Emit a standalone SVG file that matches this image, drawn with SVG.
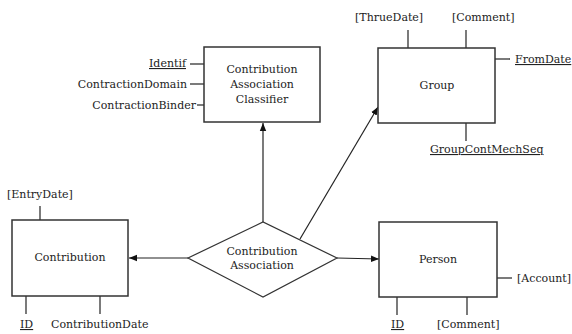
<svg xmlns="http://www.w3.org/2000/svg" width="572" height="334" viewBox="0 0 572 334">
<style>
text{font-family:"DejaVu Serif","Liberation Serif",serif;font-size:11px;fill:#222}
.box{fill:#fff;stroke:#333;stroke-width:1.5}
.t{stroke:#333;stroke-width:1.3;fill:none}
.c{stroke:#222;stroke-width:1.2;fill:none}
.m{text-anchor:middle}
.e{text-anchor:end}
.u{text-decoration:underline}
</style>
<defs>
<marker id="ah" viewBox="0 0 10 10" refX="10" refY="5" markerWidth="8" markerHeight="8" orient="auto" markerUnits="userSpaceOnUse">
<path d="M0,1 L10,5 L0,9 Z" fill="#111"/>
</marker>
</defs>
<rect width="572" height="334" fill="#fff"/>
<g id="connectors">
<line class="c" x1="263" y1="222" x2="263" y2="123" marker-end="url(#ah)"/>
<line class="c" x1="300" y1="239" x2="378" y2="107" marker-end="url(#ah)"/>
<line class="c" x1="188" y1="258" x2="129" y2="258" marker-end="url(#ah)"/>
<line class="c" x1="337" y1="258" x2="379" y2="259" marker-end="url(#ah)"/>
</g>
<g id="classifier">
<rect class="box" x="204" y="47" width="116" height="75"/>
<text class="m" x="262" y="73">Contribution</text>
<text class="m" x="262" y="88">Association</text>
<text class="m" x="262" y="103">Classifier</text>
<line class="t" x1="190" y1="64" x2="204" y2="64"/>
<line class="t" x1="190" y1="84" x2="204" y2="84"/>
<line class="t" x1="197" y1="105" x2="204" y2="105"/>
<text class="e u" x="186" y="67">Identif</text>
<text class="e" x="187" y="88">ContractionDomain</text>
<text class="e" x="196" y="109">ContractionBinder</text>
</g>
<g id="group">
<rect class="box" x="378" y="48" width="117" height="75"/>
<text class="m" x="437" y="89">Group</text>
<line class="t" x1="408" y1="30" x2="408" y2="48"/>
<line class="t" x1="466" y1="30" x2="466" y2="48"/>
<line class="t" x1="495" y1="59" x2="510" y2="59"/>
<line class="t" x1="466" y1="123" x2="466" y2="141"/>
<text x="355" y="21">[ThrueDate]</text>
<text x="452" y="21">[Comment]</text>
<text class="u" x="515" y="63">FromDate</text>
<text class="u" x="430" y="153">GroupContMechSeq</text>
</g>
<g id="association">
<polygon class="box" points="188,258 263,222 337,258 263,297" style="stroke-width:1.2"/>
<text class="m" x="262" y="255">Contribution</text>
<text class="m" x="262" y="269">Association</text>
</g>
<g id="contribution">
<rect class="box" x="12" y="220" width="116" height="76"/>
<text class="m" x="70" y="261">Contribution</text>
<line class="t" x1="40" y1="206" x2="40" y2="220"/>
<line class="t" x1="26" y1="296" x2="26" y2="314"/>
<line class="t" x1="100" y1="296" x2="100" y2="314"/>
<text x="7" y="198">[EntryDate]</text>
<text class="u" x="20" y="328">ID</text>
<text x="51" y="328">ContributionDate</text>
</g>
<g id="person">
<rect class="box" x="379" y="222" width="118" height="75"/>
<text class="m" x="438" y="263">Person</text>
<line class="t" x1="497" y1="278" x2="512" y2="278"/>
<line class="t" x1="397" y1="297" x2="397" y2="315"/>
<line class="t" x1="467" y1="297" x2="467" y2="315"/>
<text x="517" y="282">[Account]</text>
<text class="u" x="391" y="328">ID</text>
<text x="437" y="328">[Comment]</text>
</g>
</svg>
